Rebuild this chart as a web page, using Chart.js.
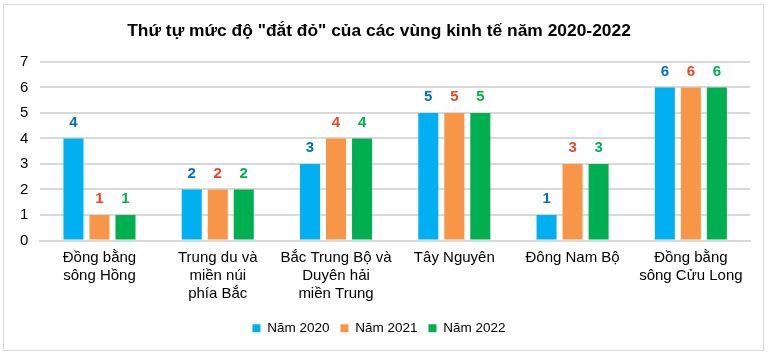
<!DOCTYPE html>
<html><head><meta charset="utf-8">
<script src="https://cdn.jsdelivr.net/npm/chart.js@4.4.0/dist/chart.umd.min.js"></script>
<style>
html,body{margin:0;padding:0;background:#fff;}
#wrap{position:absolute;left:3px;top:4px;width:761px;height:347px;border:1px solid #d9d9d9;box-sizing:border-box;}
#c{position:absolute;left:0;top:0;}
</style></head>
<body>
<div id="wrap"></div>
<canvas id="c" width="770" height="356"></canvas>
<script>
const categories = [
  ["Đồng bằng","sông Hồng"],
  ["Trung du và","miền núi","phía Bắc"],
  ["Bắc Trung Bộ và","Duyên hải","miền Trung"],
  ["Tây Nguyên"],
  ["Đông Nam Bộ"],
  ["Đồng bằng","sông Cửu Long"]
];
const seriesNames = ["Năm 2020","Năm 2021","Năm 2022"];
const values2020 = [4,2,3,5,1,6];
const values2021 = [1,2,4,5,3,6];
const values2022 = [1,2,4,5,3,6];
const yTicks = [0,1,2,3,4,5,6,7];
const barColors = ["#00B0F0","#F79646","#00B050"];
const labelColors = ["#0070C0","#E8472A","#00B050"];

const FONT = "'Liberation Sans', Arial, sans-serif";

const valueLabels = {
  id:'valueLabels',
  afterDatasetsDraw(chart){
    const ctx = chart.ctx;
    ctx.save();
    ctx.font = "bold 15px " + FONT;
    ctx.textAlign = 'center';
    ctx.textBaseline = 'middle';
    chart.data.datasets.forEach((ds,i)=>{
      const meta = chart.getDatasetMeta(i);
      meta.data.forEach((bar,j)=>{
        ctx.fillStyle = labelColors[i];
        ctx.fillText(String(ds.data[j]), bar.x, bar.y - 16);
      });
    });
    ctx.restore();
  }
};

new Chart(document.getElementById('c'), {
  type:'bar',
  data:{
    labels: categories,
    datasets: [values2020, values2021, values2022].map((d,i)=>({
      label: seriesNames[i],
      data: d,
      backgroundColor: barColors[i],
      categoryPercentage: 0.66,
      barPercentage: 0.77
    }))
  },
  options:{
    responsive:false,
    animation:false,
    devicePixelRatio:1,
    layout:{padding:{left:8,right:20,top:13,bottom:11}},
    plugins:{
      title:{display:true,text:'Thứ tự mức độ "đắt đỏ" của các vùng kinh tế năm 2020-2022',
        color:'#000',font:{family:FONT,size:17.4,weight:'bold'},padding:{top:8,bottom:20}},
      legend:{position:'bottom',labels:{color:'#000',font:{family:FONT,size:13.5},boxWidth:8,boxHeight:8,padding:11}},
      tooltip:{enabled:false}
    },
    scales:{
      x:{
        grid:{display:false,drawTicks:false},
        border:{color:'#d9d9d9',width:2},
        ticks:{color:'#000',font:{family:FONT,size:15},maxRotation:0,autoSkip:false,padding:8}
      },
      y:{
        min:0,max:7,
        afterBuildTicks(axis){axis.ticks = yTicks.map(v=>({value:v}));},
        grid:{color:'#d9d9d9',lineWidth:2,drawTicks:false},
        border:{display:false},
        ticks:{color:'#000',font:{family:FONT,size:15},padding:12,stepSize:1}
      }
    }
  },
  plugins:[valueLabels]
});
</script>
</body></html>
